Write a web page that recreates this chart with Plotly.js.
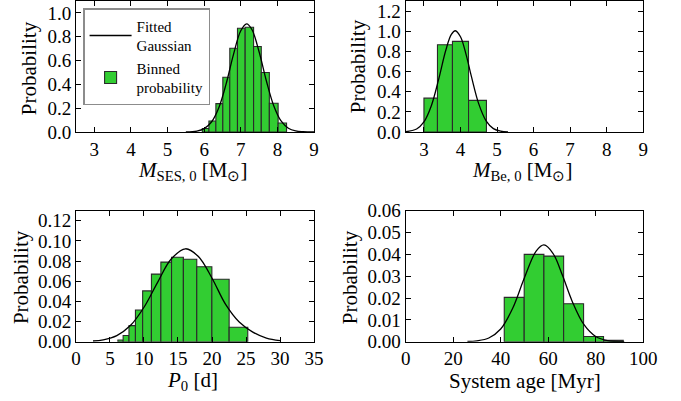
<!DOCTYPE html>
<html>
<head>
<meta charset="utf-8">
<script src="https://cdn.plot.ly/plotly-3.0.1.min.js"></script>
<style>html,body{margin:0;padding:0;background:#fff;}#chart{width:681px;height:401px;}</style>
</head>
<body>
<div id="chart"></div>
<script>
// ---- Data ----
// Panel 1: M_SES,0
var edgesSES = [5.95, 6.13, 6.32, 6.51, 6.70, 6.91, 7.12, 7.35, 7.56, 7.78, 8.02, 8.25];
var probSES  = [0.03, 0.093, 0.238, 0.46, 0.703, 0.871, 0.88, 0.718, 0.50, 0.242, 0.075];
var gaussSES_x = [5.5, 5.8, 6.0, 6.2, 6.4, 6.6, 6.8, 7.0, 7.16, 7.3, 7.5, 7.7, 7.9, 8.1, 8.3, 8.5, 8.7, 9.0];
var gaussSES_y = [0.0007, 0.0076, 0.028, 0.084, 0.204, 0.404, 0.650, 0.850, 0.908, 0.863, 0.674, 0.428, 0.221, 0.093, 0.032, 0.0088, 0.002, 0.0001];

// Panel 2: M_Be,0
var edgesBe = [3.0, 3.37, 3.78, 4.22, 4.71];
var probBe  = [0.336, 0.866, 0.899, 0.314];
var gaussBe_x = [2.5, 2.8, 3.0, 3.2, 3.4, 3.6, 3.75, 3.86, 4.0, 4.15, 4.3, 4.5, 4.7, 4.9, 5.1, 5.3];
var gaussBe_y = [0.0031, 0.030, 0.0997, 0.258, 0.519, 0.814, 0.968, 1.005, 0.945, 0.773, 0.549, 0.279, 0.111, 0.034, 0.0082, 0.0015];

// Panel 3: P_0
var edgesP = [6.16, 6.93, 7.79, 8.74, 9.80, 11.09, 12.48, 14.05, 15.79, 17.76, 19.98, 22.52, 25.26];
var probP  = [0.0017, 0.0062, 0.0159, 0.0314, 0.0504, 0.0671, 0.079, 0.0838, 0.0818, 0.0744, 0.0619, 0.0144];
var gaussP_x = [2.5, 4, 6, 8, 10, 12, 14, 16.1, 18, 20, 22, 24, 26, 28, 30];
var gaussP_y = [0.0007, 0.0019, 0.0061, 0.016, 0.0342, 0.0589, 0.082, 0.0922, 0.0845, 0.063, 0.037, 0.0195, 0.0095, 0.0036, 0.0011];

// Panel 4: System age
var edgesAge = [41.5, 49.9, 58.2, 66.5, 74.9, 83.3, 91.6];
var probAge  = [0.0203, 0.0400, 0.0392, 0.0174, 0.0024, 0.0006];
var gaussAge_x = [26, 30, 35, 40, 45, 50, 55, 58.2, 62, 66, 70, 75, 80, 85, 92];
var gaussAge_y = [0.0001, 0.0004, 0.0017, 0.0058, 0.0152, 0.0293, 0.0416, 0.0443, 0.0405, 0.0304, 0.0188, 0.0079, 0.0024, 0.0005, 0.0];

var legendNames = ['Fitted<br>Gaussian', 'Binned<br>probability'];
var xLabels = ['<i>M</i><sub>SES, 0</sub> [M<sub>⊙</sub>]', '<i>M</i><sub>Be, 0</sub> [M<sub>⊙</sub>]', '<i>P</i><sub>0</sub> [d]', 'System age [Myr]'];
var yLabel = 'Probability';

// ---- Build ----
var FONT = 'Liberation Serif, Times New Roman, serif';
function centers(e){var c=[];for(var i=0;i<e.length-1;i++)c.push((e[i]+e[i+1])/2);return c;}
function widths(e){var w=[];for(var i=0;i<e.length-1;i++)w.push(e[i+1]-e[i]);return w;}

var panels = [
  {e:edgesSES, p:probSES, gx:gaussSES_x, gy:gaussSES_y},
  {e:edgesBe, p:probBe, gx:gaussBe_x, gy:gaussBe_y},
  {e:edgesP, p:probP, gx:gaussP_x, gy:gaussP_y},
  {e:edgesAge, p:probAge, gx:gaussAge_x, gy:gaussAge_y}
];
var data = [];
panels.forEach(function(pn, i){
  var sfx = i===0 ? '' : String(i+1);
  data.push({type:'scatter', mode:'lines', x:pn.gx, y:pn.gy, xaxis:'x'+sfx, yaxis:'y'+sfx,
    line:{color:'black', width:1.3, shape:'spline', smoothing:1}, name:legendNames[0],
    showlegend:i===0, legendrank:1, hoverinfo:'skip'});
  data.push({type:'bar', x:centers(pn.e), width:widths(pn.e), y:pn.p, xaxis:'x'+sfx, yaxis:'y'+sfx,
    marker:{color:'#32CD32', line:{color:'#2a2a2a', width:1.1}}, name:legendNames[1],
    showlegend:i===0, legendrank:2, hoverinfo:'skip'});
});

function ax(extra){
  var base = {showline:true, linecolor:'black', linewidth:1, mirror:'ticks', ticks:'inside', ticklen:5,
    tickwidth:1, tickcolor:'black', showgrid:false, zeroline:false, fixedrange:true,
    tickfont:{family:FONT, size:19, color:'black'}};
  for (var k in extra) base[k]=extra[k];
  return base;
}
var xL=[0.1116,0.4611], xR=[0.5957,0.9445], yT=[0.6708,0.9975], yB=[0.1479,0.4746];
var layout = {
  width:681, height:401, margin:{l:0,r:0,t:0,b:0}, paper_bgcolor:'white', plot_bgcolor:'white',
  barmode:'overlay', font:{family:FONT, color:'black'},
  xaxis: ax({domain:xL, range:[2.5,9], tick0:0, dtick:1, anchor:'y'}),
  yaxis: ax({domain:yT, range:[0,1.1], tick0:0, dtick:0.2, tickformat:'.1f', anchor:'x'}),
  xaxis2: ax({domain:xR, range:[2.5,9], tick0:0, dtick:1, anchor:'y2'}),
  yaxis2: ax({domain:yT, range:[0,1.3], tick0:0, dtick:0.2, tickformat:'.1f', anchor:'x2'}),
  xaxis3: ax({domain:xL, range:[0,35], tick0:0, dtick:5, anchor:'y3'}),
  yaxis3: ax({domain:yB, range:[0,0.13], tick0:0, dtick:0.02, tickformat:'.2f', anchor:'x3'}),
  xaxis4: ax({domain:xR, range:[0,100], tick0:0, dtick:20, anchor:'y4'}),
  yaxis4: ax({domain:yB, range:[0,0.06], tick0:0, dtick:0.01, tickformat:'.2f', anchor:'x4'}),
  legend:{x:0.122, y:0.98, xanchor:'left', yanchor:'top', bgcolor:'white', bordercolor:'#8c8c8c',
    borderwidth:1.5, itemwidth:42, font:{family:FONT, size:15, color:'black'}, traceorder:'normal'},
  annotations:[]
};
var xlabPos = [[0.2834,0.5740],[0.7665,0.5740],[0.2834,0.0500],[0.771,0.0510]];
var ylabPos = [[0.0426,0.830],[0.5257,0.835],[0.0308,0.309],[0.514,0.309]];
for (var i=0;i<4;i++){
  layout.annotations.push({text:xLabels[i], xref:'paper', yref:'paper', x:xlabPos[i][0], y:xlabPos[i][1],
    xanchor:'center', yanchor:'middle', showarrow:false, font:{family:FONT, size:21, color:'black'}});
  layout.annotations.push({text:yLabel, xref:'paper', yref:'paper', x:ylabPos[i][0], y:ylabPos[i][1],
    xanchor:'center', yanchor:'middle', textangle:-90, showarrow:false, font:{family:FONT, size:21, color:'black'}});
}
Plotly.newPlot('chart', data, layout, {staticPlot:true, displayModeBar:false});
</script>
</body>
</html>
